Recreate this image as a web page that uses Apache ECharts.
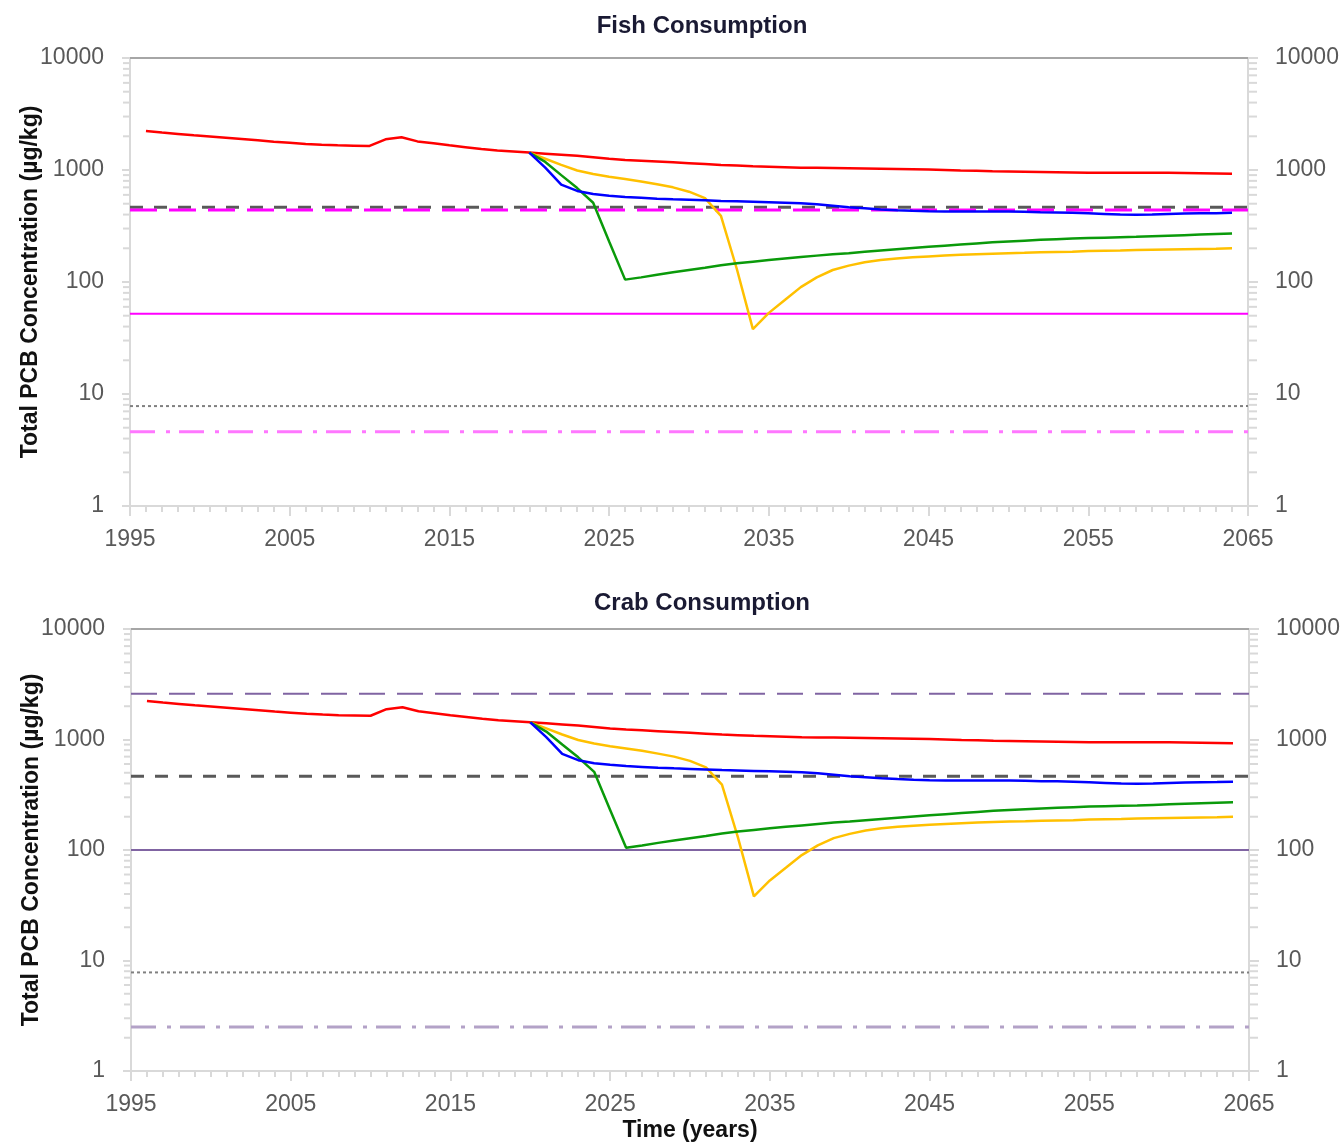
<!DOCTYPE html>
<html><head><meta charset="utf-8">
<script src="https://cdn.jsdelivr.net/npm/echarts@6/dist/echarts.min.js"></script>
<style>html,body{margin:0;padding:0;background:#fff}#c{width:1340px;height:1145px}</style>
</head><body><div id="c"></div>
<script>
// ---------------- data ----------------
const baseYears = [1996,1997,1998,1999,2000,2001,2002,2003,2004,2005,2006,2007,2008,2009,2010,2011,2012,2013,2014,2015,2016,2017,2018,2019,2020,2021,2022,2023,2024,2025,2026,2027,2028,2029,2030,2031,2032,2033,2034,2035,2036,2037,2038,2039,2040,2041,2042,2043,2044,2045,2046,2047,2048,2049,2050,2051,2052,2053,2054,2055,2056,2057,2058,2059,2060,2061,2062,2063,2064];
const baselineVals = [2230,2160,2100,2040,1990,1940,1890,1840,1790,1750,1710,1680,1660,1650,1640,1880,1960,1800,1730,1660,1600,1540,1490,1460,1430,1400,1370,1340,1300,1260,1230,1210,1190,1170,1150,1130,1110,1095,1080,1070,1060,1050,1045,1040,1035,1030,1025,1020,1015,1010,1000,990,985,975,970,965,960,955,950,945,945,945,945,945,945,940,935,930,925];
const scenYears = [2020,2021,2022,2023,2024,2025,2026,2027,2028,2029,2030,2031,2032,2033,2034,2035,2036,2037,2038,2039,2040,2041,2042,2043,2044,2045,2046,2047,2048,2049,2050,2051,2052,2053,2054,2055,2056,2057,2058,2059,2060,2061,2062,2063,2064];
const blueVals = [1430,1050,740,650,610,590,575,565,555,548,542,536,530,525,520,515,510,505,495,480,465,455,445,438,432,428,425,425,425,425,425,423,420,418,415,410,405,400,398,400,405,408,410,412,415];
const greenVals = [1430,1180,900,690,510,230,105,110,116,122,128,134,141,147,152,157,162,167,172,177,181,186,191,196,201,206,211,216,221,226,230,234,238,241,244,247,249,251,253,256,259,262,265,268,271];
const orangeVals = [1430,1260,1110,990,920,870,830,790,745,700,640,560,390,130,38,53,69,90,110,128,140,150,157,162,166,169,172,175,177,179,181,182,184,185,186,189,190,191,193,194,195,196,197,198,200];

// horizontal reference levels (µg/kg)
const fishRefVals = [465, 440, 52, 7.8, 4.6];
const crabRefVals = [2600, 465, 100, 7.8, 2.5];

// axis ticks / labels
const xRange = [1995, 2065];
const yRange = [1, 10000];
const yMinorTicks = [2,3,4,5,6,7,8,9,20,30,40,50,60,70,80,90,200,300,400,500,600,700,800,900,2000,3000,4000,5000,6000,7000,8000,9000];
const panelTitles = ['Fish Consumption', 'Crab Consumption'];
const yTitle = 'Total PCB Concentration (µg/kg)';
const xTitle = 'Time (years)';

// ---------------- styles ----------------
const FONT = 'Liberation Sans';
const AX = '#d9d9d9';
const LBL = '#595959';
const fishRefStyles = [
  {color:'#595959', width:3, type:[13,11]},
  {color:'#ff00ff', width:3, type:[27,12]},
  {color:'#ff00ff', width:2, type:'solid'},
  {color:'#808080', width:2, type:[3,3]},
  {color:'#ff77ff', width:3, type:[25,11,4,9]}
];
const crabRefStyles = [
  {color:'#8064a2', width:2, type:[26,12]},
  {color:'#595959', width:3, type:[13,11]},
  {color:'#8064a2', width:2, type:'solid'},
  {color:'#808080', width:2, type:[3,3]},
  {color:'#b3a2c7', width:3, type:[25,11,4,9]}
];

const grids = [
  {left:130, top:58, width:1118, height:448, outerBoundsMode:'none', containLabel:false},
  {left:131, top:629, width:1118, height:442, outerBoundsMode:'none', containLabel:false}
];
const zip = (xs, ys) => xs.map((x, i) => [x, ys[i]]);
const xAxes = [], yAxes = [], series = [];

grids.forEach((g, i) => {
  xAxes.push({
    type:'value', gridIndex:i, min:xRange[0], max:xRange[1], interval:10, position:'bottom',
    axisLine:{show:true, onZero:false, lineStyle:{color:AX, width:2}},
    axisTick:{show:true, length:10, lineStyle:{color:AX, width:2}},
    minorTick:{show:true, splitNumber:10, length:6, lineStyle:{color:AX, width:2}},
    splitLine:{show:false}, minorSplitLine:{show:false},
    axisLabel:{color:LBL, fontSize:23, fontFamily:FONT, margin:22, formatter:v => String(v)},
    name: i === 1 ? xTitle : '', nameLocation:'middle', nameGap:48, nameMoveOverlap:false,
    nameTextStyle:{color:'#111', fontSize:23, fontWeight:'bold', fontFamily:FONT}
  });
  xAxes.push({
    type:'value', gridIndex:i, min:xRange[0], max:xRange[1], position:'top',
    axisLine:{show:true, onZero:false, lineStyle:{color:'#a6a6a6', width:2}},
    axisTick:{show:false}, axisLabel:{show:false}, splitLine:{show:false}
  });
  yAxes.push({
    type:'log', logBase:10, gridIndex:i, min:yRange[0], max:yRange[1], position:'left',
    axisLine:{show:true, onZero:false, lineStyle:{color:AX, width:2}},
    axisTick:{show:true, length:8, lineStyle:{color:AX, width:2}},
    splitLine:{show:false},
    axisLabel:{color:LBL, fontSize:23, fontFamily:FONT, margin:26, formatter:v => String(v)},
    name:yTitle, nameLocation:'middle', nameGap:88, nameMoveOverlap:false,
    nameTextStyle:{color:'#111', fontSize:23, fontWeight:'bold', fontFamily:FONT}
  });
  yAxes.push({
    type:'log', logBase:10, gridIndex:i, min:yRange[0], max:yRange[1], position:'right',
    axisLine:{show:true, onZero:false, lineStyle:{color:AX, width:2}},
    axisTick:{show:true, length:10, lineStyle:{color:AX, width:2}},
    splitLine:{show:false},
    axisLabel:{color:LBL, fontSize:23, fontFamily:FONT, margin:27, formatter:v => String(v)}
  });

  const xi = 2 * i, yi = 2 * i;
  // minor log ticks on both sides
  [[xRange[0], -1, 7], [xRange[1], 1, 9]].forEach(([xv, dir, len]) => {
    series.push({
      type:'custom', xAxisIndex:xi, yAxisIndex:yi, silent:true, clip:false, z:1,
      data: yMinorTicks.map(v => [xv, v]),
      renderItem: (params, api) => {
        const p = api.coord([api.value(0), api.value(1)]);
        return {type:'line', shape:{x1:p[0], y1:p[1], x2:p[0] + dir * len, y2:p[1]},
                style:{stroke:AX, lineWidth:2}};
      }
    });
  });

  const refVals = i === 0 ? fishRefVals : crabRefVals;
  const refStyles = i === 0 ? fishRefStyles : crabRefStyles;
  refVals.forEach((v, k) => {
    series.push({
      type:'line', xAxisIndex:xi, yAxisIndex:yi, symbol:'none', silent:true, z:3,
      data:[[xRange[0], v], [xRange[1], v]],
      lineStyle:refStyles[k]
    });
  });

  const lines = [
    {d:zip(baseYears, baselineVals), c:'#ff0000'},
    {d:zip(scenYears, orangeVals), c:'#ffc000'},
    {d:zip(scenYears, greenVals), c:'#0a9a0a'},
    {d:zip(scenYears, blueVals), c:'#0000ff'}
  ];
  lines.forEach(l => series.push({
    type:'line', xAxisIndex:xi, yAxisIndex:yi, symbol:'none', silent:true, z:4,
    data:l.d, lineStyle:{color:l.c, width:2.5}
  }));
});

const chart = echarts.init(document.getElementById('c'), null, {renderer:'canvas'});
chart.setOption({
  animation:false,
  backgroundColor:'#ffffff',
  title: panelTitles.map((t, i) => ({
    text:t, left:697, top: i === 0 ? 9 : 586, textAlign:'center',
    textStyle:{color:'#1a1a33', fontSize:24, fontWeight:'bold', fontFamily:FONT}
  })),
  grid:grids,
  xAxis:xAxes,
  yAxis:yAxes,
  series:series
});
</script></body></html>
